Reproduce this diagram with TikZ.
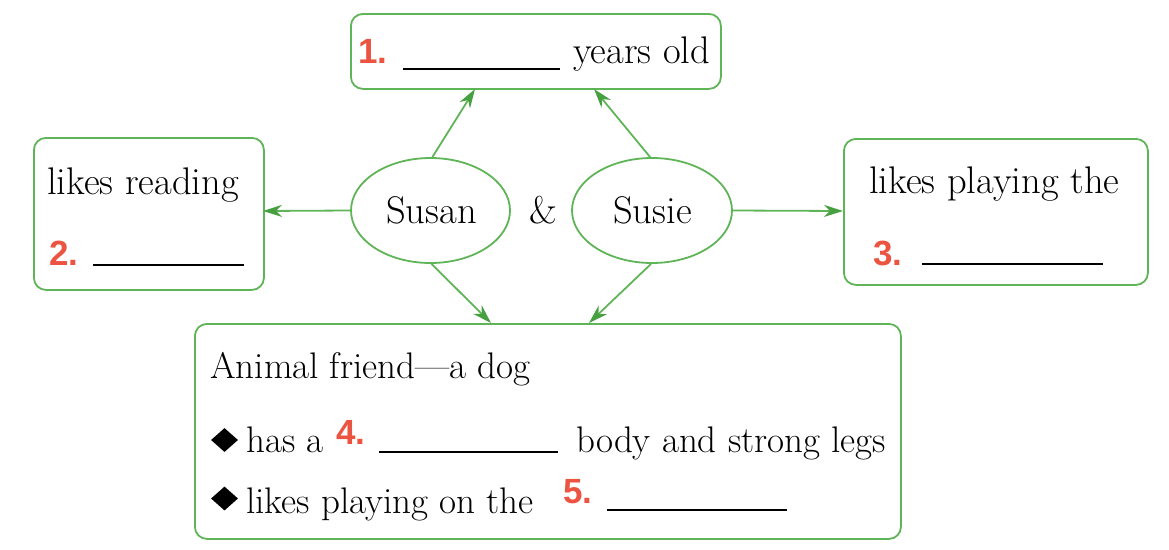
\documentclass[tikz,border=0pt]{standalone}
\usepackage{fontspec}
\newfontfamily\numfont{Liberation Sans}
\usetikzlibrary{arrows.meta,shapes.geometric}
\definecolor{boxgreen}{RGB}{96,180,88}
\definecolor{headgreen}{RGB}{70,160,64}
\definecolor{numred}{RGB}{236,84,66}
\tikzset{
  gbox/.style={draw=boxgreen,line width=1.8pt,rounded corners=12pt,inner sep=0pt,anchor=north west},
  gell/.style={draw=boxgreen,line width=1.8pt,ellipse,inner sep=0pt},
  txt/.style={anchor=base west,inner sep=0pt,font=\fontsize{38.5}{44}\selectfont},
  btxt/.style={txt,font=\fontsize{37}{42}\selectfont},
  num/.style={anchor=base west,inner sep=0pt,text=numred,font=\numfont\bfseries\fontsize{35}{40}\selectfont},
  blank/.style={line width=1.8pt,draw=black},
  conn/.style={draw=boxgreen,line width=1.8pt,-{Stealth[length=19pt,width=12pt,inset=6pt,color=headgreen]}},
  bullet/.style={diamond,fill=black,inner sep=0pt,minimum width=27pt,minimum height=24pt}
}
\begin{document}
\begin{tikzpicture}[x=1pt,y=-1pt]
\useasboundingbox (0,0) rectangle (1169,549);
% boxes
\node[gbox,minimum width=370pt,minimum height=75pt] (top) at (350,13) {};
\node[gbox,minimum width=230pt,minimum height=152pt] (left) at (33,137) {};
\node[gbox,minimum width=304pt,minimum height=146pt] (right) at (843,138) {};
\node[gbox,minimum width=706pt,minimum height=215pt] (bot) at (194,323) {};
% ellipses
\node[gell,minimum width=159pt,minimum height=105pt] (susan) at (430.5,210.5) {};
\node[gell,minimum width=160pt,minimum height=105pt] (susie) at (652,210.5) {};
\node[txt] (susant) at (386,223) {Susan};
\node[txt] (amp) at (529,223) {\&};
\node[txt] (susiet) at (613,223) {Susie};
% top box text
\node[num] (n1) at (358,63) {1.};
\coordinate (b1a) at (403,69); \coordinate (b1b) at (560,69);
\draw[blank] (b1a) -- (b1b);
\node[txt] (years) at (573,63) {years old};
% left box text
\node[txt] (reading) at (47,194) {likes reading};
\node[num] (n2) at (49,265) {2.};
\coordinate (b2a) at (93,265); \coordinate (b2b) at (244,265);
\draw[blank] (b2a) -- (b2b);
% right box text
\node[txt] (playing) at (869,193) {likes playing the};
\node[num] (n3) at (873,265) {3.};
\coordinate (b3a) at (922,264); \coordinate (b3b) at (1103,264);
\draw[blank] (b3a) -- (b3b);
% bottom box text
\node[btxt] (animal) at (210,378) {Animal friend---a dog};
\node[bullet] (d1) at (224.5,440) {};
\node[btxt] (hasa) at (246,452) {has a};
\node[num] (n4) at (336,444) {4.};
\coordinate (b4a) at (379,452); \coordinate (b4b) at (558,452);
\draw[blank] (b4a) -- (b4b);
\node[btxt] (body) at (576,452) {body and strong legs};
\node[bullet] (d2) at (224.5,498.5) {};
\node[btxt] (likesp) at (246,513) {likes playing on the};
\node[num] (n5) at (563,503) {5.};
\coordinate (b5a) at (607,510); \coordinate (b5b) at (787,510);
\draw[blank] (b5a) -- (b5b);
% arrow end points
\coordinate (t1) at (475,89);
\coordinate (t2) at (594,89);
\coordinate (tl) at (263,211);
\coordinate (tr) at (843,211);
\coordinate (tb1) at (491,323);
\coordinate (tb2) at (589,323);
% connectors
\draw[conn] (susan.88) -- (t1);
\draw[conn] (susie.92) -- (t2);
\draw[conn] (susan.west) -- (tl);
\draw[conn] (susie.east) -- (tr);
\draw[conn] (susan.271) -- (tb1);
\draw[conn] (susie.269) -- (tb2);
\end{tikzpicture}
\end{document}
